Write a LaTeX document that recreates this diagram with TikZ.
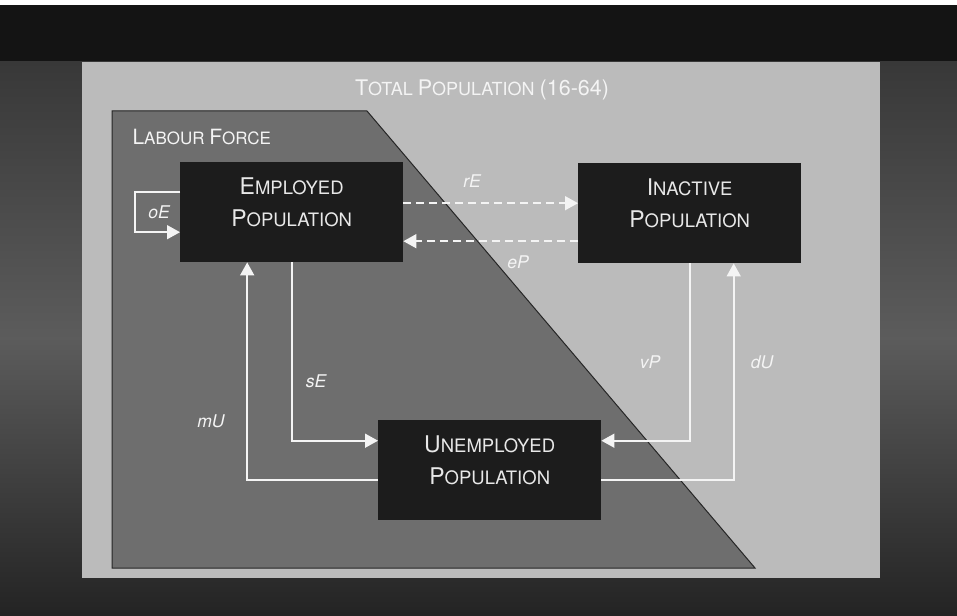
\documentclass[tikz,border=0pt]{standalone}
\usepackage{fontspec}
\setsansfont{TeX Gyre Heros}
\usetikzlibrary{arrows.meta}
\definecolor{barblack}{HTML}{141414}
\definecolor{panelgrey}{HTML}{BBBBBB}
\definecolor{forcegrey}{HTML}{6E6E6E}
\definecolor{boxblack}{HTML}{1C1C1C}
\definecolor{boxtext}{HTML}{E8E8E8}
\definecolor{flowwhite}{HTML}{F4F4F4}
% fake small caps: big first letter, smaller rest
\newcommand{\capword}[2]{{\fontsize{23}{32}\selectfont #1}#2}
\newcommand{\headword}[2]{{\fontsize{21.5}{24}\selectfont #1}#2}
\begin{document}
\begin{tikzpicture}[x=1pt,y=-1pt]
      \tikzstyle{pop}=[fill=boxblack, minimum width=223pt, minimum height=100pt,
                       anchor=north west, inner sep=0pt]
      \tikzstyle{poptext}=[text=boxtext, align=center,
                           font=\sffamily\fontsize{18.5}{32}\selectfont]
      \tikzstyle{head}=[text=flowwhite, font=\sffamily\fontsize{18}{24}\selectfont]
      \tikzstyle{flow}=[draw=flowwhite, line width=1.6pt,
                        -{Triangle[width=14pt,length=13pt]}]
      \tikzstyle{swap}=[flow, dash pattern=on 8pt off 5pt]
      \tikzstyle{rate}=[text=flowwhite, font=\sffamily\itshape\fontsize{17.5}{20}\selectfont]
      \useasboundingbox (0,0) rectangle (957,615);
      % backdrop
      \fill[white] (0,0) rectangle (957,5);
      \fill[barblack] (0,5) rectangle (957,62);
      \shade[top color=black!78, bottom color=black!86, middle color=black!64]
            (0,62) rectangle (957,615);
      \fill[panelgrey] (82,62) rectangle (880,578);
      \filldraw[fill=forcegrey, draw=black!85, line width=1pt]
            (112,111) -- (367,111) -- (755,568) -- (112,568) -- cycle;
      \node[head] (total) at (482,90)
            {\headword{T}{OTAL} \headword{P}{OPULATION} \headword{(16-64)}{}};
      \node[head, font=\sffamily\fontsize{17}{20}\selectfont, anchor=west]
            (force) at (129,137)
            {{\fontsize{21}{24}\selectfont L}ABOUR {\fontsize{21}{24}\selectfont F}ORCE};
      % the three populations
      \node[pop] (emp)   at (180,162) {};
      \node[pop] (inact) at (578,163) {};
      \node[pop] (unemp) at (378,420) {};
      \node[poptext] (emptext)   at ([yshift=10pt]emp.center)
            {\capword{E}{MPLOYED}\\\capword{P}{OPULATION}};
      \node[poptext] (inacttext) at ([yshift=10pt]inact.center)
            {\capword{I}{NACTIVE}\\\capword{P}{OPULATION}};
      \node[poptext] (unemptext) at ([yshift=10pt]unemp.center)
            {\capword{U}{NEMPLOYED}\\\capword{P}{OPULATION}};
      % flows
      \coordinate (rEout) at ([yshift=9pt]emp.east);
      \coordinate (ePin)  at ([yshift=-29pt]emp.east);
      \draw[flow] ([yshift=20pt]emp.west) -- ++(-45,0) -- ++(0,40)
            -- ([yshift=-20pt]emp.west);
      \draw[swap] (rEout) -- (rEout -| inact.west);
      \draw[swap] (ePin -| inact.west) -- (ePin);
      \draw[flow] (emp.south) |- ([yshift=29.5pt]unemp.west);
      \draw[flow] ([yshift=-9.5pt]unemp.west) -| ([xshift=-44.5pt]emp.south);
      \draw[flow] (inact.south) |- ([yshift=29.5pt]unemp.east);
      \draw[flow] ([yshift=-9.5pt]unemp.east) -| ([xshift=44pt]inact.south);
      \node[rate] (oE) at (159,212) {oE};
      \node[rate] (rE) at (472,181) {rE};
      \node[rate] (eP) at (518,262) {eP};
      \node[rate] (sE) at (316,381) {sE};
      \node[rate] (mU) at (211,421) {mU};
      \node[rate] (vP) at (650,362) {vP};
      \node[rate] (dU) at (762,362) {dU};
    \end{tikzpicture}
\end{document}
